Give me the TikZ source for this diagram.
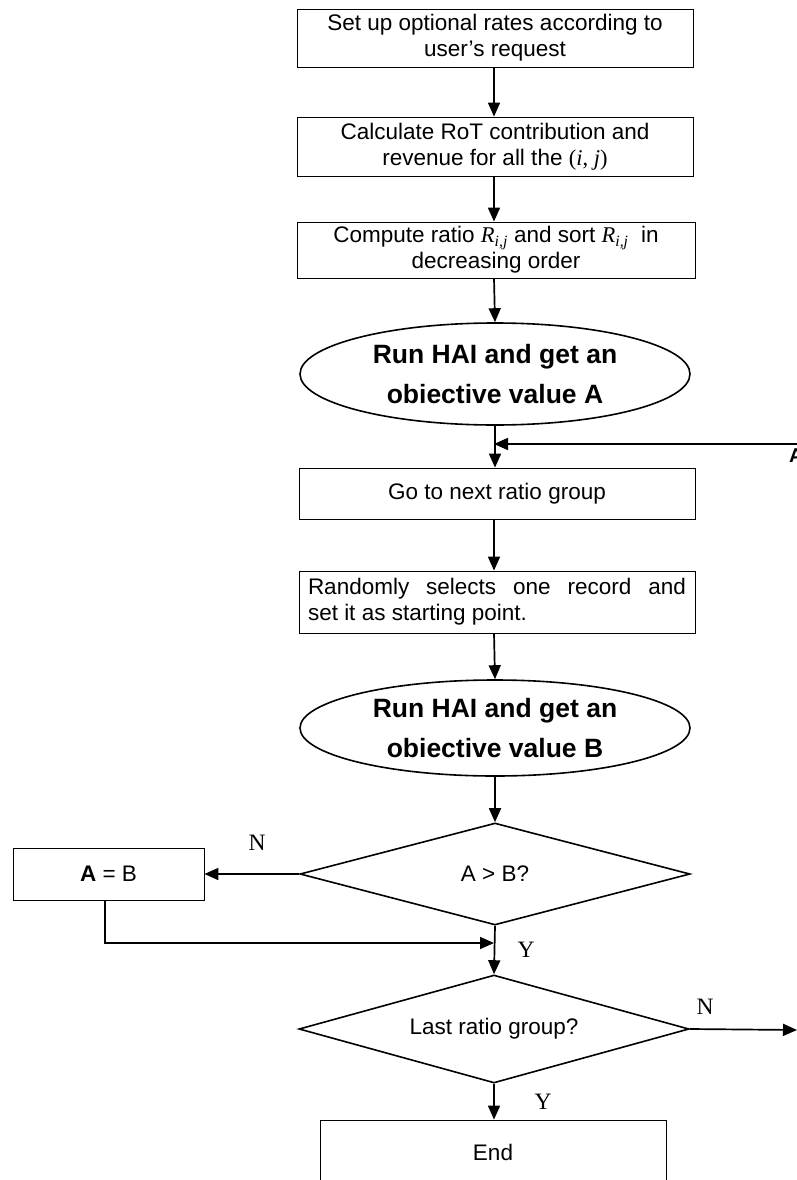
\documentclass[tikz,border=0pt]{standalone}
\usepackage{fontspec}
\setmainfont{Liberation Sans}
\newfontfamily\tnr{Liberation Serif}
\usetikzlibrary{shapes.geometric,arrows.meta}

\begin{document}
\begin{tikzpicture}[x=1pt,y=-1pt,
  stepbox/.style={draw, line width=0.8pt, inner sep=0pt, align=center,
    font=\fontsize{22.5}{26}\selectfont},
  oval/.style={draw, ellipse, line width=1.6pt, inner sep=0pt, align=center,
    font=\fontsize{26.5}{40}\selectfont\bfseries},
  test/.style={draw, diamond, shape aspect=3.6, line width=1.6pt, inner sep=0pt,
    align=center, font=\fontsize{22.5}{26}\selectfont},
  flow/.style={line width=1.7pt, -{Triangle[length=14pt,width=12pt]}},
  yn/.style={font=\tnr\fontsize{23.5}{26}\selectfont, inner sep=0pt}
]
\useasboundingbox (0,0) rectangle (797,1180);

% vertical spine of the flow
\coordinate (spine) at (494,0);

% process boxes
\node[stepbox, minimum width=396, minimum height=58] (setup) at (495,38)
  {Set up optional rates according to\\user's request};
\node[stepbox, minimum width=396, minimum height=59] (calc) at (495,146.5)
  {Calculate RoT contribution and\\revenue for all the {\tnr(\textit{i}, \textit{j})}};
\node[stepbox, minimum width=398, minimum height=56] (ratio) at (496,250)
  {Compute ratio {\tnr\itshape R\textsubscript{i,j}} and sort {\tnr\itshape R\textsubscript{i,j}}\ \ in\\decreasing order};
\node[oval, minimum width=390, minimum height=102] (haiA) at (495,374)
  {Run HAI and get an\\obiective value A};
\coordinate (J1) at (494,444);
\coordinate (loopin) at (797,444);
\node[stepbox, minimum width=396, minimum height=51] (next) at (497,493.5)
  {Go to next ratio group};
\node[stepbox, minimum width=396, minimum height=62, align=left] (rand) at (497,602)
  {\makebox[378pt][s]{Randomly selects one record and}\\set it as starting point.};
\node[oval, minimum width=390, minimum height=96] (haiB) at (495,728)
  {Run HAI and get an\\obiective value B};
\node[test, minimum width=390, minimum height=102] (cmp) at (495,874) {A > B?};
\node[stepbox, minimum width=191, minimum height=52] (assign) at (108.5,874)
  {\textbf{A} = B};
\coordinate (J2) at (494,943);
\node[test, minimum width=390, minimum height=108] (last) at (494,1029)
  {Last ratio group?};
\coordinate (loopout) at (797,1030);
\node[stepbox, minimum width=346, minimum height=64] (finish) at (493,1152) {End};

% connectors
\draw[flow] (setup.south -| spine) -- (calc.north -| spine);
\draw[flow] (calc.south -| spine) -- (ratio.north -| spine);
\draw[flow] (ratio.south -| spine) -- (haiA.north);
\draw[flow] (haiA.south) -- (next.north -| haiA.south);
\draw[flow] (loopin) -- (J1);
\draw[flow] (next.south -| spine) -- (rand.north -| spine);
\draw[flow] (rand.south -| spine) -- (haiB.north);
\draw[flow] (haiB.south) -- (cmp.north);
\draw[flow] (cmp.west) -- (assign.east);
\draw[flow] ([xshift=-3.5pt]assign.south) |- (J2);
\draw[flow] (cmp.south) -- (last.north);
\draw[flow] (last.east) -- (loopout);
\draw[flow] (last.south) -- (finish.north -| last.south);

% branch labels
\node[yn] (n1) at (257,843) {N};
\node[yn] (y1) at (526,950) {Y};
\node[yn] (n2) at (705,1007) {N};
\node[yn] (y2) at (543,1102) {Y};
\node[font=\fontsize{20}{22}\selectfont\bfseries, anchor=west, inner sep=0pt] (tagA) at (789,456) {A};
\end{tikzpicture}
\end{document}
